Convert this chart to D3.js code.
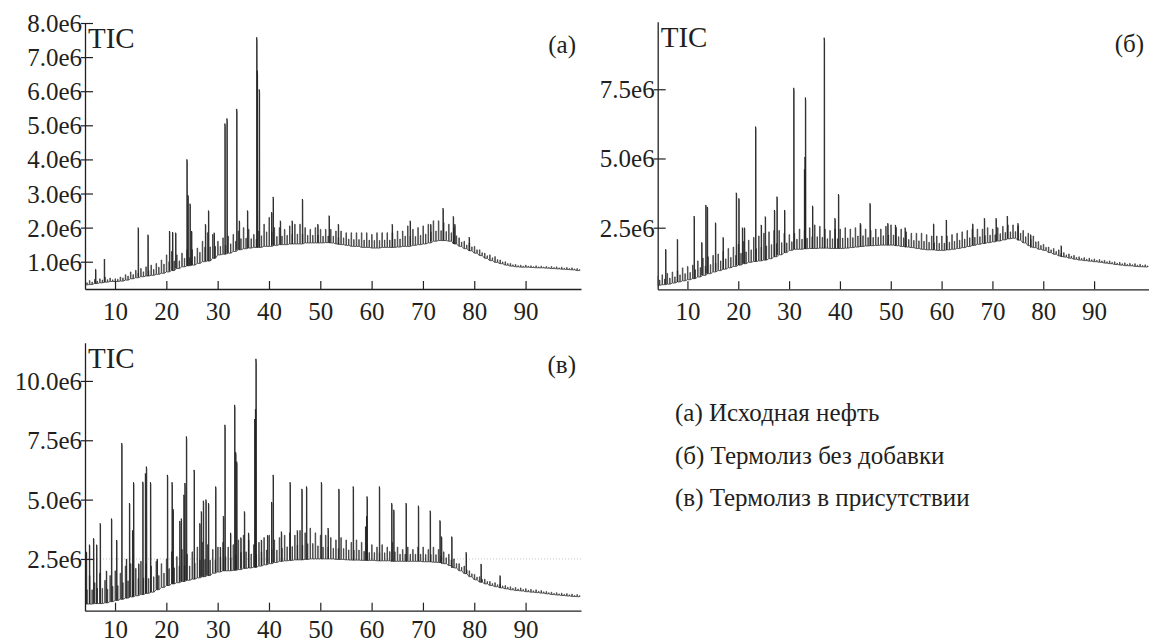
<!DOCTYPE html>
<html>
<head>
<meta charset="utf-8">
<script src="https://cdn.jsdelivr.net/npm/d3@7"></script>
<style>
    body { margin: 0; background: #fff; }
    text { font-family: "Liberation Serif", "Times New Roman", serif; fill: #231f20; }
</style>
</head>
<body>
<svg id="chart" width="1149" height="642"></svg>
<script>
// retention time grid starts at 4 min, one value per minute up to 100 min
const startMinute = 4;
const timeTicks = [10, 20, 30, 40, 50, 60, 70, 80, 90];

// (а) Исходная нефть, values in 1e6
const loA = [
    0.32, 0.33, 0.36, 0.38, 0.40, 0.42, 0.42, 0.43, 0.46, 0.50,
    0.53, 0.56, 0.58, 0.60, 0.63, 0.66, 0.70, 0.74, 0.80, 0.85,
    0.88, 0.90, 0.95, 1.00, 1.02, 1.10, 1.20, 1.22, 1.25, 1.30,
    1.35, 1.38, 1.40, 1.42, 1.42, 1.45, 1.45, 1.48, 1.50, 1.50,
    1.52, 1.52, 1.52, 1.55, 1.55, 1.55, 1.55, 1.56, 1.55, 1.52,
    1.50, 1.48, 1.45, 1.45, 1.42, 1.42, 1.40, 1.40, 1.42, 1.42,
    1.42, 1.43, 1.45, 1.45, 1.48, 1.50, 1.52, 1.55, 1.60, 1.62,
    1.62, 1.60, 1.52, 1.45, 1.38, 1.32, 1.25, 1.18, 1.10, 1.03,
    0.98, 0.94, 0.90, 0.87, 0.85, 0.84, 0.84, 0.83, 0.82, 0.82,
    0.81, 0.80, 0.79, 0.78, 0.77, 0.76, 0.74
];
const hiA = [
    0.42, 0.45, 0.48, 0.50, 0.55, 0.52, 0.50, 0.55, 0.62, 0.70,
    0.75, 0.80, 0.85, 0.90, 0.95, 1.05, 1.20, 1.30, 1.20, 1.25,
    1.35, 1.35, 1.40, 1.60, 1.85, 1.80, 1.60, 1.70, 1.75, 1.80,
    1.90, 2.00, 1.95, 1.80, 1.90, 2.10, 2.30, 2.00, 2.00, 1.95,
    2.05, 2.10, 2.10, 2.00, 1.95, 2.00, 1.95, 1.95, 1.95, 1.90,
    1.90, 1.85, 1.85, 1.85, 1.85, 1.85, 1.80, 1.85, 1.85, 1.85,
    1.85, 1.90, 1.90, 2.05, 1.95, 2.00, 2.05, 2.10, 2.20, 2.20,
    2.15, 2.10, 2.00, 1.70, 1.60, 1.55, 1.45, 1.35, 1.25, 1.20,
    1.15, 1.05, 1.00, 0.95, 0.92, 0.90, 0.90, 0.88, 0.88, 0.87,
    0.86, 0.86, 0.85, 0.84, 0.83, 0.82, 0.80
];
const peaksA = [
    [6.2, 0.78], [7.9, 1.08], [14.5, 2.0], [16.4, 1.79], [20.6, 1.9], [21.2, 1.87], [21.8, 1.85],
    [24.0, 4.0], [24.2, 2.95], [24.6, 2.7], [24.9, 1.9], [27.6, 2.1], [28.2, 2.5], [29.3, 1.85],
    [31.4, 5.05], [31.8, 5.2], [33.7, 5.48], [34.2, 2.2], [35.8, 2.5], [37.6, 7.58], [37.7, 6.6],
    [38.1, 6.05], [40.5, 2.45], [40.8, 2.9], [42.2, 2.2], [44.5, 2.2], [46.5, 2.84], [49.5, 2.1],
    [51.7, 2.35], [53.5, 2.1], [64.0, 2.1], [67.5, 2.2], [71.5, 2.1], [73.9, 2.57], [75.9, 2.33],
    [76.2, 2.1], [79.0, 1.72]
];
const yTicksA = [1, 2, 3, 4, 5, 6, 7, 8];

// (б) Термолиз без добавки
const loB = [
    0.42, 0.44, 0.46, 0.50, 0.54, 0.58, 0.62, 0.66, 0.72, 0.78,
    0.84, 0.90, 0.95, 1.00, 1.05, 1.10, 1.15, 1.20, 1.25, 1.28,
    1.30, 1.33, 1.38, 1.45, 1.52, 1.60, 1.68, 1.72, 1.72, 1.74,
    1.75, 1.75, 1.76, 1.76, 1.75, 1.75, 1.75, 1.76, 1.78, 1.80,
    1.82, 1.84, 1.85, 1.86, 1.87, 1.87, 1.87, 1.85, 1.82, 1.80,
    1.78, 1.75, 1.72, 1.70, 1.70, 1.68, 1.68, 1.70, 1.72, 1.75,
    1.78, 1.82, 1.86, 1.90, 1.93, 1.96, 1.99, 2.02, 2.06, 2.10,
    2.12, 2.05, 1.95, 1.85, 1.78, 1.72, 1.68, 1.60, 1.54, 1.48,
    1.44, 1.40, 1.36, 1.33, 1.31, 1.29, 1.27, 1.25, 1.22, 1.20,
    1.17, 1.15, 1.13, 1.12, 1.10, 1.09, 1.08
];
const hiB = [
    0.75, 0.80, 0.85, 0.90, 0.95, 1.05, 1.10, 1.15, 1.30, 1.40,
    1.45, 1.50, 1.55, 1.65, 1.75, 1.80, 1.90, 2.00, 2.05, 2.15,
    2.20, 2.30, 2.35, 2.40, 2.40, 2.30, 2.25, 2.30, 2.45, 2.40,
    2.50, 2.60, 2.55, 2.45, 2.40, 2.45, 2.45, 2.50, 2.45, 2.50,
    2.60, 2.45, 2.40, 2.45, 2.45, 2.55, 2.60, 2.50, 2.45, 2.35,
    2.30, 2.30, 2.30, 2.25, 2.20, 2.20, 2.20, 2.20, 2.25, 2.30,
    2.35, 2.40, 2.45, 2.45, 2.45, 2.50, 2.45, 2.50, 2.55, 2.60,
    2.60, 2.55, 2.40, 2.30, 2.20, 2.00, 1.90, 1.80, 1.75, 1.70,
    1.60, 1.55, 1.50, 1.45, 1.42, 1.40, 1.37, 1.35, 1.32, 1.30,
    1.27, 1.25, 1.23, 1.21, 1.20, 1.18, 1.16
];
const peaksB = [
    [5.7, 1.72], [8.0, 2.08], [11.3, 2.92], [12.8, 1.97], [13.6, 3.32], [13.9, 3.25], [15.5, 2.68],
    [17.0, 2.15], [19.6, 3.76], [20.1, 3.56], [20.8, 2.5], [21.2, 2.5], [23.4, 6.15], [24.5, 2.6],
    [25.3, 2.9], [27.1, 3.14], [27.6, 3.62], [29.1, 3.14], [30.9, 7.55], [33.0, 4.6], [33.1, 5.05],
    [33.2, 7.2], [34.6, 3.29], [36.9, 9.36], [39.0, 2.84], [39.7, 3.71], [44.0, 2.66], [45.9, 3.38],
    [49.4, 2.66], [50.9, 2.6], [52.8, 2.5], [58.4, 2.64], [60.9, 2.78], [66.1, 2.64], [68.4, 2.84],
    [70.7, 2.84], [72.9, 2.92], [75.0, 2.66], [77.5, 2.25], [83.5, 1.85]
];
const yTicksB = [2.5, 5.0, 7.5];

// (в) Термолиз в присутствии
const loC = [
    0.60, 0.60, 0.62, 0.62, 0.65, 0.70, 0.75, 0.80, 0.85, 0.90,
    0.95, 1.00, 1.05, 1.10, 1.20, 1.30, 1.38, 1.45, 1.50, 1.55,
    1.60, 1.65, 1.70, 1.75, 1.80, 1.90, 1.95, 2.00, 2.00, 2.02,
    2.05, 2.10, 2.12, 2.15, 2.20, 2.25, 2.30, 2.35, 2.40, 2.42,
    2.44, 2.46, 2.46, 2.48, 2.50, 2.50, 2.50, 2.50, 2.50, 2.48,
    2.48, 2.46, 2.45, 2.45, 2.44, 2.44, 2.44, 2.42, 2.42, 2.42,
    2.40, 2.40, 2.40, 2.40, 2.40, 2.40, 2.38, 2.38, 2.36, 2.35,
    2.30, 2.22, 2.12, 2.00, 1.88, 1.75, 1.62, 1.52, 1.45, 1.38,
    1.33, 1.28, 1.24, 1.20, 1.17, 1.15, 1.12, 1.10, 1.08, 1.06,
    1.03, 1.00, 0.98, 0.96, 0.94, 0.92, 0.91
];
const hiC = [
    1.60, 1.80, 1.50, 1.90, 1.60, 1.80, 2.00, 1.90, 2.20, 2.30,
    2.10, 2.40, 2.30, 2.20, 2.40, 2.30, 2.50, 2.80, 2.60, 2.90,
    2.70, 2.80, 3.00, 3.20, 3.10, 2.90, 3.00, 3.20, 3.00, 3.10,
    3.30, 3.50, 3.30, 3.10, 3.20, 3.40, 3.50, 3.30, 3.40, 3.50,
    3.60, 3.50, 3.70, 3.60, 3.80, 3.60, 3.50, 3.50, 3.40, 3.30,
    3.40, 3.30, 3.20, 3.30, 3.20, 3.10, 3.10, 3.00, 3.10, 3.00,
    3.20, 3.00, 2.90, 3.00, 2.90, 3.00, 3.00, 2.90, 3.00, 2.90,
    2.80, 2.70, 2.50, 2.30, 2.20, 2.00, 1.85, 1.75, 1.65, 1.55,
    1.50, 1.45, 1.38, 1.33, 1.30, 1.28, 1.25, 1.22, 1.20, 1.17,
    1.13, 1.10, 1.08, 1.06, 1.04, 1.02, 1.00
];
const peaksC = [
    [4.4, 2.8], [5.0, 3.1], [5.8, 3.37], [6.4, 3.1], [7.1, 4.0], [8.3, 2.0], [9.3, 4.2], [10.3, 3.3],
    [11.3, 7.38], [12.2, 2.5], [12.8, 4.85], [13.4, 3.7], [13.6, 5.73], [14.6, 2.3], [15.4, 5.75],
    [15.9, 6.1], [16.1, 6.39], [16.9, 5.73], [18.2, 2.5], [20.2, 6.04], [21.1, 5.73], [21.3, 4.6],
    [22.6, 4.1], [22.9, 4.2], [23.4, 5.2], [23.6, 5.7], [23.9, 7.66], [25.4, 6.25], [26.5, 4.0],
    [26.8, 4.5], [27.2, 4.95], [27.7, 5.0], [28.2, 4.85], [29.6, 5.55], [30.5, 3.0], [31.1, 4.3],
    [31.4, 8.15], [32.5, 3.6], [33.3, 8.99], [33.5, 7.0], [33.7, 6.6], [34.5, 3.4], [35.2, 4.5],
    [36.0, 3.6], [37.2, 8.39], [37.35, 8.8], [37.45, 10.93], [38.5, 3.3], [39.7, 3.5], [40.5, 4.9],
    [40.8, 6.04], [42.4, 3.65], [44.1, 5.73], [45.5, 3.7], [46.4, 5.45], [47.3, 5.55], [50.2, 5.73],
    [51.5, 3.8], [53.6, 5.45], [56.4, 5.55], [58.8, 3.86], [59.0, 4.3], [59.1, 5.13], [61.5, 5.55],
    [63.9, 4.85], [64.3, 4.57], [66.7, 4.85], [69.1, 4.74], [71.4, 4.53], [73.3, 4.12], [73.6, 3.44],
    [75.6, 3.44], [78.4, 2.78], [81.3, 2.29], [85.0, 1.8]
];
const yTicksC = [2.5, 5.0, 7.5, 10.0];
const refLineC = 2.5;

const legendItems = ["(а) Исходная нефть", "(б) Термолиз без добавки", "(в) Термолиз в присутствии"];

const xDomain = [4.15, 100.8];

const panels = [
    {lo: loA, hi: hiA, peaks: peaksA, yTicks: yTicksA, yDomain: [0.2, 8.0], left: 85, right: 581, top: 23, bottom: 289, tag: "(а)", labelY: 31},
    {lo: loB, hi: hiB, peaks: peaksB, yTicks: yTicksB, yDomain: [0.275, 9.94], left: 657.7, right: 1149, top: 21.7, bottom: 289.3, tag: "(б)", labelY: 31},
    {lo: loC, hi: hiC, peaks: peaksC, yTicks: yTicksC, yDomain: [0.32, 11.61], left: 85, right: 581, top: 342.7, bottom: 610.7, tag: "(в)", labelY: 27.5, ref: refLineC},
];

const svg = d3.select("#chart");
const ink = "#231f20";
const fmt = d3.format(".1f");

panels.forEach((p, k) => {
    const x = d3.scaleLinear().domain(xDomain).range([p.left, p.right]);
    const y = d3.scaleLinear().domain(p.yDomain).range([p.bottom, p.top]);
    const g = svg.append("g");

    g.append("clipPath")
        .attr("id", "clip" + k)
        .append("rect")
        .attr("x", p.left)
        .attr("y", p.top - 10)
        .attr("width", p.right - p.left)
        .attr("height", p.bottom - p.top + 10);

    const plot = g.append("g").attr("clip-path", `url(#clip${k})`);

    if (p.ref !== undefined) {
        plot.append("line")
            .attr("x1", p.left).attr("x2", p.right)
            .attr("y1", y(p.ref)).attr("y2", y(p.ref))
            .attr("stroke", "#b5b5b5")
            .attr("stroke-width", 0.8)
            .attr("stroke-dasharray", "1,2");
    }

    const line = d3.line().x(d => x(d[0])).y(d => y(d[1]));

    // comb of small peaks between the lower and upper envelope
    const pts = [];
    p.lo.forEach((lo, i) => {
        const t = startMinute + i;
        const hi = p.hi[i];
        const next = p.hi[Math.min(i + 1, p.hi.length - 1)];
        const second = (lo + Math.max(hi, next)) / 2;
        pts.push([t, lo], [t, hi], [t + 0.1, hi], [t + 0.1, lo],
                 [t + 0.5, lo], [t + 0.5, second], [t + 0.58, second], [t + 0.58, lo]);
    });
    plot.append("path")
        .attr("d", line(pts))
        .attr("fill", "none")
        .attr("stroke", "#3a3a3a")
        .attr("stroke-width", 0.85);

    // tall peaks
    plot.selectAll(".peak")
        .data(p.peaks)
        .enter()
        .append("path")
        .attr("class", "peak")
        .attr("d", d => {
            const base = p.lo[Math.round(d[0]) - startMinute];
            return line([[d[0], base], [d[0], d[1]], [d[0] + 0.08, d[1] * 0.985], [d[0] + 0.1, base]]);
        })
        .attr("fill", "none")
        .attr("stroke", "#222")
        .attr("stroke-width", 0.9);

    // axes
    const gx = g.append("g")
        .attr("transform", `translate(0,${p.bottom})`)
        .call(d3.axisBottom(x).tickValues(timeTicks).tickSize(0).tickSizeOuter(0));
    gx.select(".domain").attr("stroke", ink).attr("stroke-width", 1.3);
    gx.selectAll(".tick line").attr("y2", -8).attr("stroke", ink).attr("stroke-width", 1.2);
    gx.selectAll(".tick text")
        .attr("y", p.labelY)
        .attr("dy", 0)
        .attr("font-size", 25)
        .attr("fill", ink);

    const gy = g.append("g")
        .attr("transform", `translate(${p.left},0)`)
        .call(d3.axisLeft(y).tickValues(p.yTicks).tickSizeOuter(0).tickFormat(v => fmt(v) + "e6"));
    gy.select(".domain").attr("stroke", ink).attr("stroke-width", 1.3);
    gy.selectAll(".tick line").attr("x1", 8).attr("x2", -4).attr("stroke", ink).attr("stroke-width", 1.2);
    gy.selectAll(".tick text")
        .attr("x", -3)
        .attr("dy", "0.34em")
        .attr("font-size", 25)
        .attr("fill", ink);

    g.append("text")
        .attr("x", p.left + 3)
        .attr("y", p.top + 25)
        .attr("font-size", 29)
        .text("TIC");

    g.append("text")
        .attr("x", p.right - 5)
        .attr("y", p.top + 30)
        .attr("text-anchor", "end")
        .attr("font-size", 25)
        .text(p.tag);
});

svg.selectAll(".legend")
    .data(legendItems)
    .enter()
    .append("text")
    .attr("class", "legend")
    .attr("x", 675)
    .attr("y", (d, i) => 421 + i * 42.5)
    .attr("font-size", 25)
    .text(d => d);
</script>
</body>
</html>
